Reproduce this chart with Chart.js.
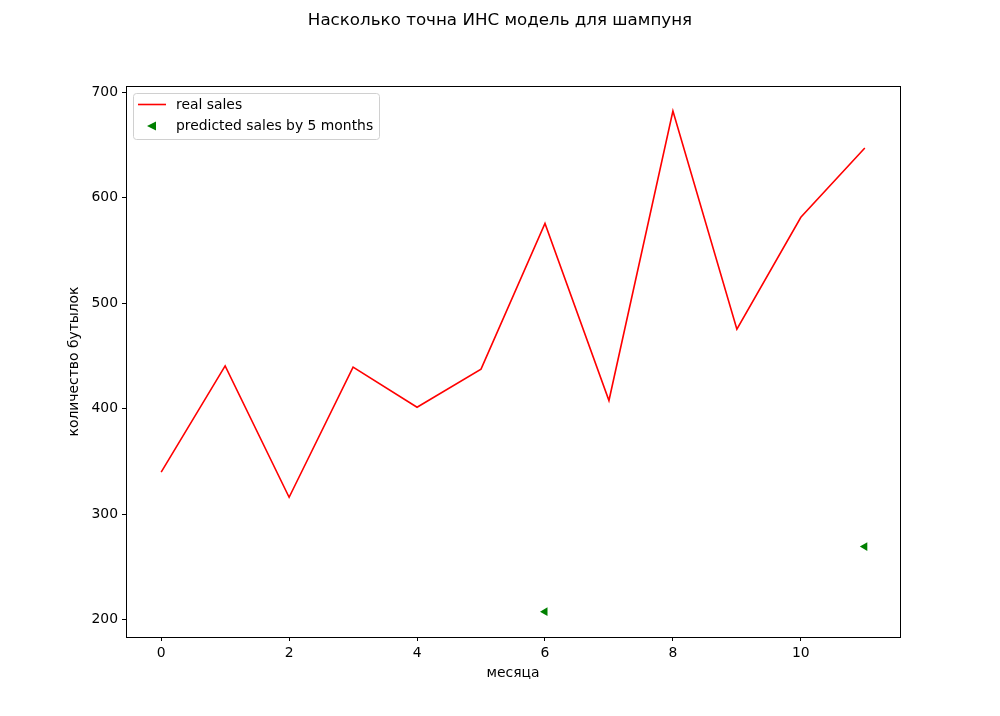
<!DOCTYPE html>
<html lang="ru">
<head>
<meta charset="UTF-8">
<title>Насколько точна ИНС модель для шампуня</title>
<script src="https://cdn.jsdelivr.net/npm/chart.js@4"></script>
<style>
  html, body { margin: 0; padding: 0; background: #fff; }
  #wrap { width: 1000px; height: 716px; position: relative; }
</style>
</head>
<body>
<div id="wrap"><canvas id="chart"></canvas></div>
<script>
// months 0..11
const months = [0, 1, 2, 3, 4, 5, 6, 7, 8, 9, 10, 11];
const realSales = [339.7, 440.4, 315.9, 439.3, 401.3, 437.4, 575.5, 407.6, 682.0, 475.3, 581.3, 646.9];
const predictedSales = [null, null, null, null, null, null, 207.5, null, null, null, null, 269.2];
const xTicks = [0, 2, 4, 6, 8, 10];
const yTicks = [200, 300, 400, 500, 600, 700];
const titleText = 'Насколько точна ИНС модель для шампуня';

const FONT = 'DejaVu Sans';
const SMALL = 13.9;

// title centred on the whole figure, box around plot, legend in upper left
const framePlugin = {
    id: 'frame',
    afterDraw(chart) {
        const { ctx, chartArea: a } = chart;
        ctx.save();
        ctx.fillStyle = '#000';
        ctx.font = '16.7px "' + FONT + '"';
        ctx.textAlign = 'center';
        ctx.textBaseline = 'middle';
        ctx.fillText(titleText, chart.width / 2, 21);
        ctx.textAlign = 'left';

        ctx.strokeStyle = '#000';
        ctx.lineWidth = 1;
        ctx.strokeRect(a.left + 0.5, a.top + 0.5, a.right - a.left, a.bottom - a.top);

        // legend
        const lx = a.left + 7, ly = a.top + 7, lw = 246, lh = 46;
        ctx.beginPath();
        ctx.roundRect(lx + 0.5, ly + 0.5, lw, lh, 3);
        ctx.fillStyle = 'rgba(255,255,255,0.8)';
        ctx.fill();
        ctx.strokeStyle = '#d0d0d0';
        ctx.stroke();

        ctx.font = SMALL + 'px "' + FONT + '"';
        ctx.fillStyle = '#000';
        const ds = chart.data.datasets;
        // real sales line
        ctx.strokeStyle = ds[0].borderColor;
        ctx.lineWidth = 1.6;
        ctx.beginPath();
        ctx.moveTo(lx + 5, ly + 11.5);
        ctx.lineTo(lx + 33, ly + 11.5);
        ctx.stroke();
        ctx.fillText(ds[0].label, lx + 43, ly + 12);
        // predicted marker
        ctx.fillStyle = ds[1].backgroundColor;
        ctx.beginPath();
        ctx.moveTo(lx + 14, ly + 33);
        ctx.lineTo(lx + 23, ly + 28.5);
        ctx.lineTo(lx + 23, ly + 37.5);
        ctx.closePath();
        ctx.fill();
        ctx.fillStyle = '#000';
        ctx.fillText(ds[1].label, lx + 43, ly + 33.5);
        ctx.restore();
    }
};

new Chart(document.getElementById('chart'), {
    type: 'line',
    data: {
        labels: months,
        datasets: [
            {
                label: 'real sales',
                data: months.map((m, i) => ({ x: m, y: realSales[i] })),
                borderColor: '#ff0000',
                backgroundColor: '#ff0000',
                borderWidth: 1.6,
                pointRadius: 0,
                fill: false,
                tension: 0
            },
            {
                label: 'predicted sales by 5 months',
                data: months.map((m, i) => ({ x: m, y: predictedSales[i] })),
                borderColor: '#008000',
                backgroundColor: '#008000',
                showLine: false,
                pointStyle: 'triangle',
                rotation: -90,
                pointRadius: 5,
                pointBorderWidth: 0
            }
        ]
    },
    options: {
        responsive: true,
        maintainAspectRatio: false,
        animation: false,
        layout: { padding: { left: 66, right: 100, top: 86, bottom: 30 } },
        plugins: {
            legend: { display: false },
            tooltip: { enabled: false },
            title: { display: false }
        },
        scales: {
            x: {
                type: 'linear',
                min: -0.55,
                max: 11.55,
                afterBuildTicks: s => { s.ticks = xTicks.map(v => ({ value: v })); },
                afterFit: s => { s.height = 49; },
                grid: { drawOnChartArea: false, drawTicks: true, tickLength: 4, color: '#000' },
                border: { display: false },
                ticks: { color: '#000', font: { family: FONT, size: SMALL }, padding: 4, maxRotation: 0 },
                title: {
                    display: true, text: 'месяца', color: '#000',
                    font: { family: FONT, size: SMALL }, padding: { top: 4 }
                }
            },
            y: {
                min: 183.5,
                max: 705.7,
                afterBuildTicks: s => { s.ticks = yTicks.map(v => ({ value: v })); },
                afterFit: s => { s.width = 60; },
                grid: { drawOnChartArea: false, drawTicks: true, tickLength: 4, color: '#000' },
                border: { display: false },
                ticks: { color: '#000', font: { family: FONT, size: SMALL }, padding: 4 },
                title: {
                    display: true, text: 'количество бутылок', color: '#000',
                    font: { family: FONT, size: SMALL }, padding: { top: 0, bottom: 0 }
                }
            }
        }
    },
    plugins: [framePlugin]
});
</script>
</body>
</html>
